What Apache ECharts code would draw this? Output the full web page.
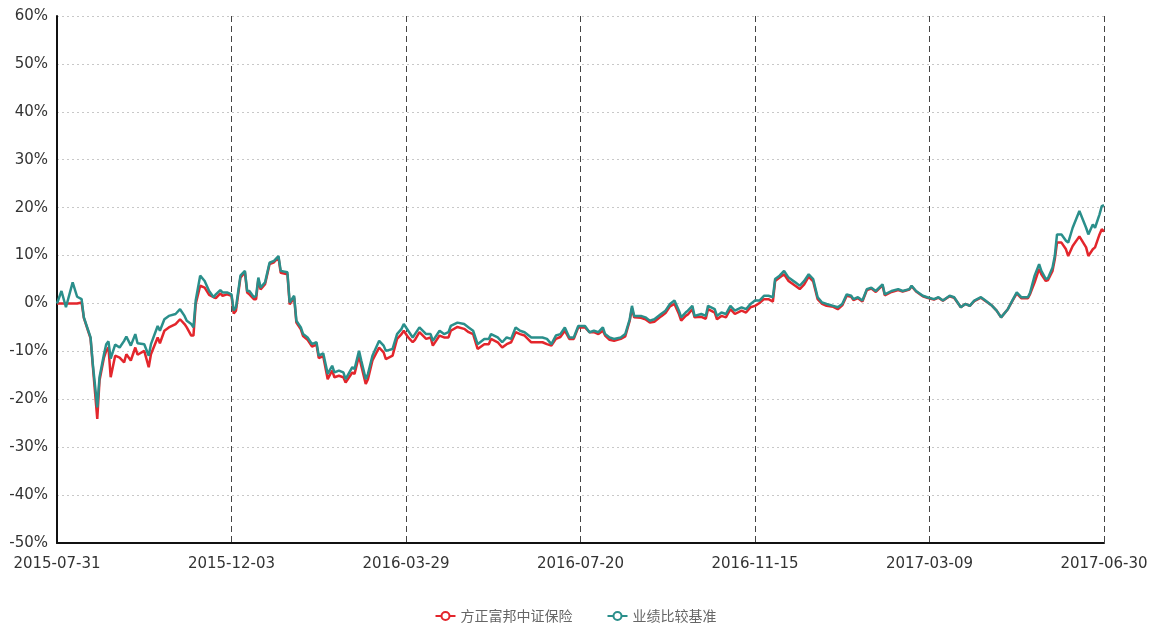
<!DOCTYPE html>
<html>
<head>
<meta charset="utf-8">
<script src="https://cdn.jsdelivr.net/npm/echarts@6/dist/echarts.min.js"></script>
<style>
html,body{margin:0;padding:0;background:#fff;}
#main{width:1151px;height:626px;}
</style>
</head>
<body>
<div id="main"></div>
<script>
// trading-day index of each reading (0 = 2015-07-31, 468 = 2017-06-30)
const days = [0,2,4,7,9,11,12,14,15,16,18,19,21,22,23,24,26,28,30,31,33,35,36,39,41,42,45,46,48,50,53,55,57,58,60,61,62,64,66,68,70,71,73,74,76,78,79,80,82,84,85,86,88,89,90,91,93,95,97,99,100,103,104,106,107,109,110,112,114,116,117,119,121,123,124,126,128,129,132,133,135,136,138,139,141,144,146,147,150,152,154,155,157,159,160,162,165,167,168,171,173,175,176,179,182,184,186,188,191,193,194,197,199,201,203,205,207,209,212,214,217,219,221,223,225,227,229,231,233,236,238,240,242,244,245,247,249,252,254,256,257,258,261,263,265,267,270,272,274,276,278,279,281,282,284,285,288,290,291,294,295,297,299,301,303,306,308,310,312,314,316,318,320,321,323,325,327,330,332,334,336,338,340,342,344,347,349,351,353,355,356,358,360,362,364,366,369,370,373,376,378,381,382,384,387,389,392,394,396,399,401,404,406,408,410,413,415,418,420,422,425,427,429,431,434,435,437,439,440,442,443,445,446,447,449,451,452,454,457,460,461,463,464,466,467,468];
// 方正富邦中证保险 (%)
const fund = [0.0,0.0,0.0,0.0,0.0,0.2,-3.0,-5.9,-7.3,-13.0,-24.1,-16.1,-11.3,-9.9,-9.2,-15.4,-10.9,-11.3,-12.3,-10.6,-11.9,-9.2,-10.7,-9.9,-13.3,-10.6,-7.1,-8.3,-5.7,-5.0,-4.3,-3.3,-4.3,-5.0,-6.7,-6.7,-0.1,3.7,3.3,1.8,1.3,1.1,2.1,1.6,1.9,1.6,-2.1,-1.5,5.4,6.5,2.3,1.9,0.9,0.9,5.0,2.9,4.0,8.2,8.6,9.6,6.4,6.1,-0.2,1.2,-4.0,-5.4,-6.8,-7.6,-9.0,-8.6,-11.4,-11.0,-15.8,-14.0,-15.4,-15.1,-15.4,-16.5,-14.4,-14.7,-10.9,-13.0,-16.8,-15.8,-11.9,-9.2,-10.2,-11.6,-10.9,-7.4,-6.4,-5.7,-7.1,-8.1,-7.6,-6.0,-7.4,-7.1,-8.8,-6.7,-7.1,-7.1,-5.7,-4.9,-5.3,-6.0,-6.4,-9.5,-8.5,-8.5,-7.4,-8.1,-9.2,-8.5,-8.1,-6.0,-6.4,-6.7,-8.1,-8.1,-8.1,-8.5,-8.8,-7.4,-7.0,-5.7,-7.4,-7.4,-5.0,-5.0,-6.0,-6.0,-6.4,-5.7,-6.7,-7.6,-7.8,-7.4,-6.9,-3.6,-1.0,-2.9,-3.0,-3.3,-4.0,-3.8,-2.7,-2.0,-0.6,-0.1,-2.2,-3.6,-2.6,-2.3,-1.2,-2.9,-2.8,-3.2,-1.2,-1.9,-3.3,-2.6,-2.9,-1.2,-2.2,-1.5,-1.9,-0.8,-0.5,0.1,0.9,0.9,0.4,4.7,5.4,6.1,4.7,3.7,3.0,4.0,5.6,4.6,0.9,-0.1,-0.5,-0.7,-1.2,-0.4,1.6,1.4,0.7,1.1,0.4,2.8,3.1,2.4,3.8,1.7,2.4,2.8,2.5,2.9,3.6,2.5,1.5,1.2,0.8,1.2,0.6,1.5,1.2,-0.8,-0.1,-0.5,0.5,1.2,0.5,-0.5,-1.5,-2.9,-1.2,0.5,2.1,1.1,1.1,2.0,4.4,7.2,6.1,4.7,4.9,6.8,9.2,12.7,12.7,11.3,9.9,12.0,14.0,11.7,9.9,11.3,11.7,14.4,15.5,15.0];
// 业绩比较基准 (%)
const bench = [0.0,2.6,-0.8,4.4,1.4,0.9,-2.9,-5.7,-7.1,-12.6,-21.7,-15.4,-10.6,-8.5,-7.9,-11.5,-8.6,-9.2,-7.8,-6.9,-8.8,-6.4,-8.3,-8.5,-10.9,-8.5,-4.7,-5.7,-3.3,-2.6,-2.2,-1.2,-2.6,-3.6,-4.3,-5.0,0.6,5.8,4.7,2.6,1.3,1.9,2.8,2.3,2.3,1.9,-1.5,-0.8,5.8,6.8,2.6,2.6,1.3,1.6,5.4,3.3,4.4,8.5,8.9,9.9,6.8,6.5,0.2,1.6,-3.6,-5.0,-6.4,-7.1,-8.5,-8.1,-10.9,-10.4,-14.7,-13.0,-14.4,-14.0,-14.4,-15.8,-13.3,-13.7,-9.9,-11.9,-15.8,-14.7,-10.9,-7.8,-8.8,-9.9,-9.5,-6.4,-5.3,-4.3,-5.7,-7.1,-6.4,-5.0,-6.4,-6.4,-7.8,-5.7,-6.4,-6.0,-4.7,-4.0,-4.3,-5.0,-5.7,-8.5,-7.4,-7.4,-6.4,-7.1,-8.1,-7.1,-7.4,-5.0,-5.7,-6.0,-7.1,-7.1,-7.1,-7.4,-8.5,-6.7,-6.4,-5.0,-7.1,-7.1,-4.7,-4.7,-6.0,-5.7,-6.0,-5.0,-6.4,-7.1,-7.4,-7.1,-6.4,-3.3,-0.5,-2.6,-2.6,-2.9,-3.6,-3.3,-2.2,-1.5,-0.1,0.6,-1.5,-2.9,-1.9,-1.5,-0.5,-2.6,-2.2,-2.6,-0.5,-1.2,-2.6,-1.9,-2.2,-0.5,-1.5,-0.8,-1.2,-0.1,0.6,0.6,1.6,1.6,1.3,5.1,5.8,6.8,5.4,4.4,3.7,4.7,6.1,5.1,1.3,0.2,-0.1,-0.5,-0.8,-0.1,1.9,1.6,0.9,1.3,0.6,3.0,3.3,2.6,4.0,1.9,2.6,3.0,2.6,3.0,3.7,2.6,1.6,1.3,0.9,1.3,0.6,1.6,1.3,-0.8,-0.1,-0.5,0.6,1.3,0.6,-0.5,-1.5,-2.9,-1.2,0.6,2.3,1.3,1.3,2.3,5.8,8.2,6.8,5.1,5.3,7.5,9.9,14.4,14.4,13.1,12.7,15.8,19.3,15.8,14.4,16.5,15.8,18.6,20.3,20.5];
const tickLabels = ['2015-07-31','2015-12-03','2016-03-29','2016-07-20','2016-11-15','2017-03-09','2017-06-30'];
const seriesNames = ['方正富邦中证保险','业绩比较基准'];
const colors = ['#e3262c','#2a8f8b'];

const tickStep = 78;
const chart = echarts.init(document.getElementById('main'));
const mk = (arr) => days.map((d, i) => [d, arr[i]]);
chart.setOption({
  animation: false,
  backgroundColor: '#ffffff',
  color: colors,
  grid: {left: 57, right: 47, top: 16, bottom: 83},
  legend: {
    data: seriesNames,
    top: 604,
    left: 'center',
    itemGap: 34,
    itemWidth: 20,
    itemHeight: 10,
    textStyle: {color: '#666', fontSize: 14, fontFamily: "'Noto Sans CJK SC', sans-serif"}
  },
  xAxis: {
    type: 'value',
    min: 0,
    max: tickStep * (tickLabels.length - 1),
    interval: tickStep,
    axisLine: {show: true, onZero: false, lineStyle: {color: '#111', width: 2}},
    axisTick: {show: false},
    axisLabel: {
      color: '#333', fontSize: 15, fontFamily: "'DejaVu Sans', sans-serif", margin: 14,
      showMinLabel: true, showMaxLabel: true,
      formatter: (v) => tickLabels[Math.round(v / tickStep)] || ''
    },
    splitLine: {show: true, lineStyle: {color: '#444', type: [6, 4], width: 1}}
  },
  yAxis: {
    type: 'value',
    min: -50,
    max: 60,
    interval: 10,
    axisLine: {show: true, lineStyle: {color: '#111', width: 2}},
    axisTick: {show: false},
    axisLabel: {color: '#333', fontSize: 15, fontFamily: "'DejaVu Sans', sans-serif", margin: 9, formatter: '{value}%'},
    splitLine: {show: true, lineStyle: {color: '#c8c8c8', type: [2, 3], width: 1}}
  },
  series: [
    {name: seriesNames[0], type: 'line', data: mk(fund), symbol: 'emptyCircle', symbolSize: 7, showSymbol: false, lineStyle: {width: 2.5, color: colors[0]}, itemStyle: {color: colors[0]}},
    {name: seriesNames[1], type: 'line', data: mk(bench), symbol: 'emptyCircle', symbolSize: 7, showSymbol: false, lineStyle: {width: 2.5, color: colors[1]}, itemStyle: {color: colors[1]}}
  ]
});
</script>
</body>
</html>
